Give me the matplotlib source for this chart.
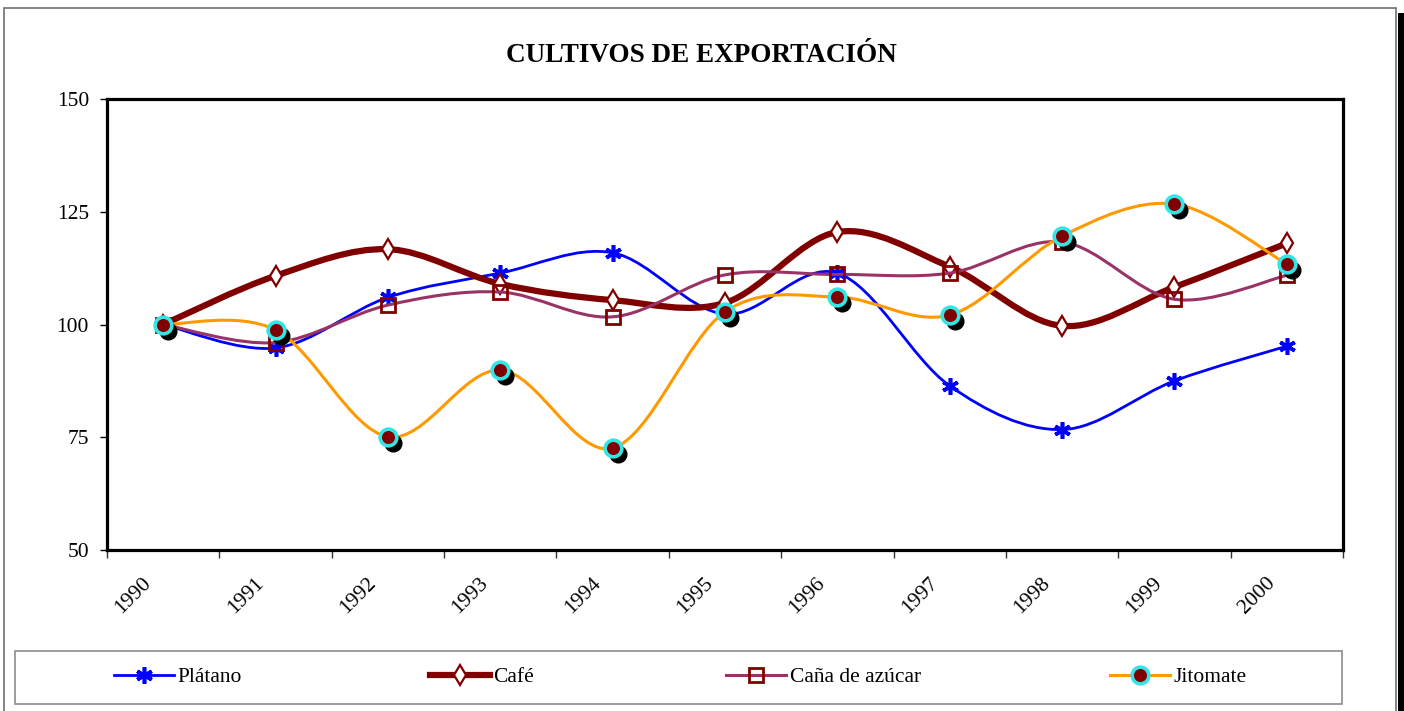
import numpy as np
import matplotlib
matplotlib.use("Agg")
import matplotlib.pyplot as plt
from matplotlib.path import Path
from matplotlib.patches import PathPatch, Rectangle
from matplotlib.lines import Line2D
from matplotlib.transforms import ScaledTranslation

# ---------------- data ----------------
years = ["1990", "1991", "1992", "1993", "1994", "1995",
         "1996", "1997", "1998", "1999", "2000"]
platano = [100, 94.8, 106.0, 111.4, 115.9, 102.3, 111.4, 86.4, 76.7, 87.5, 95.2]
cafe = [100, 110.8, 116.7, 109.0, 105.4, 104.8, 120.5, 112.8, 99.7, 108.3, 118.0]
cana = [100, 96.0, 104.3, 107.2, 101.7, 111.0, 111.1, 111.4, 118.3, 105.6, 110.9]
jitomate = [100, 98.8, 75.1, 89.9, 72.6, 102.8, 106.1, 102.1, 119.6, 126.7, 113.4]
series_names = ["Plátano", "Café", "Caña de azúcar", "Jitomate"]
yticks = [50, 75, 100, 125, 150]
title = "CULTIVOS DE EXPORTACIÓN"

W, H = 1404, 711
fig = plt.figure(figsize=(W / 100, H / 100), dpi=100)
fig.patch.set_facecolor("white")
SERIF = ["Liberation Serif", "DejaVu Serif"]

def px(x0, y0, x1, y1):
    return [x0 / W, 1 - y1 / H, (x1 - x0) / W, (y1 - y0) / H]

ax = fig.add_axes(px(107, 99, 1343, 550))
x = np.arange(len(years))


def smooth_path(xs, ys):
    pts = np.column_stack([xs, ys]).astype(float)
    n = len(pts)
    verts = [pts[0]]
    codes = [Path.MOVETO]
    for i in range(n - 1):
        p_prev = pts[i - 1] if i > 0 else pts[i]
        p0 = pts[i]
        p1 = pts[i + 1]
        p_next = pts[i + 2] if i + 2 < n else pts[i + 1]
        c1 = p0 + (p1 - p_prev) / 6.0
        c2 = p1 - (p_next - p0) / 6.0
        verts += [c1, c2, p1]
        codes += [Path.CURVE4] * 3
    return Path(verts, codes)


def draw_series(ys, line_color, lw, z, mk):
    patch = PathPatch(smooth_path(x, ys), facecolor="none", edgecolor=line_color,
                      lw=lw, zorder=z, capstyle="round", joinstyle="round")
    ax.add_patch(patch)
    ax.plot(x, ys, linestyle="none", zorder=z + 0.5, clip_on=False, **mk)


platano_mk = dict(marker=(6, 2, 0), markersize=12, markeredgewidth=2.6,
                  markerfacecolor="#0000FF", markeredgecolor="#0000FF")
cafe_mk = dict(marker="d", markersize=10, markeredgewidth=1.6,
               markerfacecolor="white", markeredgecolor="#800000")
cana_mk = dict(marker="s", markersize=10, markeredgewidth=2,
               markerfacecolor="none", markeredgecolor="#800000")
jito_mk = dict(marker="o", markersize=12, markeredgewidth=2.6,
               markerfacecolor="#800000", markeredgecolor="#33E5E5")

draw_series(platano, "#0000FF", 2.0, 3, platano_mk)
draw_series(cafe, "#800000", 4.5, 4, cafe_mk)
draw_series(cana, "#993366", 2.2, 5, cana_mk)

# Jitomate with black drop shadow under markers
ax.add_patch(PathPatch(smooth_path(x, jitomate), facecolor="none",
                       edgecolor="#FF9900", lw=2.2, zorder=6))
shadow_tr = ax.transData + ScaledTranslation(0.05, -0.06, fig.dpi_scale_trans)
ax.plot(x, jitomate, linestyle="none", marker="o", markersize=12,
        markerfacecolor="black", markeredgecolor="black",
        transform=shadow_tr, zorder=6.2, clip_on=False)
ax.plot(x, jitomate, linestyle="none", zorder=6.5, clip_on=False, **jito_mk)

# ---------------- axes styling ----------------
ax.set_xlim(-0.5, len(years) - 0.5)
ax.set_ylim(50, 150)
ax.set_yticks(yticks)
ax.set_yticklabels([str(v) for v in yticks], fontsize=15.5, family=SERIF)
ax.tick_params(axis="y", direction="out", length=5, width=1, pad=8,
               color="black")

ax.set_xticks(x)
ax.set_xticklabels(years, fontsize=15.5, family=SERIF, rotation=45,
                   ha="right", va="top", rotation_mode="default")
ax.tick_params(axis="x", which="major", length=0, pad=17)
ax.set_xticks(np.arange(-0.5, len(years)), minor=True)
ax.tick_params(axis="x", which="minor", direction="out", length=6, width=1,
               color="#333333")
lbl_off = ScaledTranslation(-0.08, 0, fig.dpi_scale_trans)
for lab in ax.get_xticklabels():
    lab.set_transform(lab.get_transform() + lbl_off)

for sp in ax.spines.values():
    sp.set_linewidth(2.3)
    sp.set_color("black")
ax.set_facecolor("white")

# ---------------- title ----------------
fig.text(701 / W, 1 - 56 / H, title, ha="center", va="center",
         fontsize=19.5, fontweight="bold", family=SERIF)

# ---------------- outer frame ----------------
fig.add_artist(Rectangle((4 / W, -0.05), (1396 - 4) / W, 1.05 - 8 / H,
                         transform=fig.transFigure, facecolor="none",
                         edgecolor="#707070", lw=1.2, zorder=0))
fig.add_artist(Rectangle((1398 / W, 0), 6 / W, 1 - 13 / H,
                         transform=fig.transFigure, facecolor="black",
                         edgecolor="none", zorder=0))

# ---------------- legend ----------------
fig.add_artist(Rectangle(px(15, 651, 1342, 704)[:2], (1342 - 15) / W, 53 / H,
                         transform=fig.transFigure, facecolor="white",
                         edgecolor="#8c8c8c", lw=1.2, zorder=1))
handles = [
    Line2D([], [], color="#0000FF", lw=2.0, **platano_mk),
    Line2D([], [], color="#800000", lw=4.5, **cafe_mk),
    Line2D([], [], color="#993366", lw=2.2, **cana_mk),
    Line2D([], [], color="#FF9900", lw=2.2, **jito_mk),
]
leg_x = [114, 430, 726, 1110]
for h, name, lx in zip(handles, series_names, leg_x):
    lg = fig.legend([h], [name], loc="center left",
                    bbox_to_anchor=(lx / W, 1 - 677 / H), frameon=False,
                    borderpad=0, borderaxespad=0, handlelength=2.8,
                    handletextpad=0.15, prop={"family": SERIF, "size": 15.5},
                    numpoints=1)
    lg.set_zorder(2)

fig.savefig("out.png", dpi=100, facecolor="white")
